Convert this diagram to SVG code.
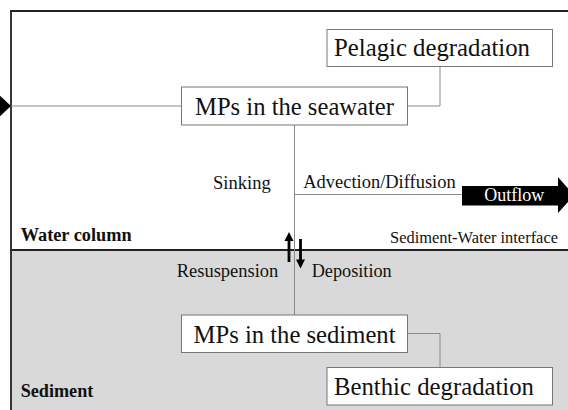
<svg xmlns="http://www.w3.org/2000/svg" width="568" height="410" viewBox="0 0 568 410" font-family="'Liberation Serif', 'DejaVu Serif', serif">
<style>
.box{fill:#fff;stroke:#777;stroke-width:1}
.bt{font-size:24.5px;fill:#111}
.lbl{font-size:18.5px;fill:#111}
.zone{font-size:18px;font-weight:bold;fill:#111}
.con{fill:none;stroke:#8a8a8a;stroke-width:1}
.border{fill:none;stroke:#222;stroke-width:1.8}
</style>
<rect x="0" y="0" width="568" height="410" fill="#fff"/>
<g id="sediment-zone">
<rect x="11" y="250" width="560" height="165" fill="#d9d9d9"/>
</g>
<g id="frame">
<path class="border" d="M11,415 V11 H575"/>
<line class="border" x1="11" y1="250" x2="575" y2="250"/>
</g>
<g id="connectors">
<line class="con" x1="11" y1="106" x2="181.5" y2="106"/>
<polyline class="con" points="407.5,106 440,106 440,66.5"/>
<line class="con" x1="294.5" y1="125" x2="294.5" y2="315"/>
<line class="con" x1="294.5" y1="194.5" x2="462" y2="194.5"/>
<polyline class="con" points="407.5,333.5 440,333.5 440,367.5"/>
<polygon points="-2,94 11,106 -2,118" fill="#000"/>
<g id="resuspension-arrow">
<line x1="289" y1="240" x2="289" y2="262" stroke="#000" stroke-width="2.8"/>
<polygon points="289,232 284.5,241 293.5,241" fill="#000"/>
</g>
<g id="deposition-arrow">
<line x1="300.5" y1="239" x2="300.5" y2="261" stroke="#000" stroke-width="2.8"/>
<polygon points="300.5,268.5 296,259.5 305,259.5" fill="#000"/>
</g>
</g>
<g id="outflow">
<polygon points="462,186 558,186 558,177 574,195.5 558,213 558,205.5 462,205.5" fill="#000"/>
<text x="484.3" y="200.7" font-size="18px" fill="#fff" textLength="60" lengthAdjust="spacingAndGlyphs">Outflow</text>
</g>
<g id="pelagic">
<rect class="box" x="327" y="29.5" width="225.5" height="37"/>
<text class="bt" x="334" y="56" textLength="196" lengthAdjust="spacingAndGlyphs">Pelagic degradation</text>
</g>
<g id="seawater">
<rect class="box" x="181.5" y="87" width="226" height="38"/>
<text class="bt" x="195" y="115" textLength="199" lengthAdjust="spacingAndGlyphs">MPs in the seawater</text>
</g>
<g id="sediment">
<rect class="box" x="181.5" y="315" width="226" height="37.5"/>
<text class="bt" x="193.5" y="342.5" textLength="202" lengthAdjust="spacingAndGlyphs">MPs in the sediment</text>
</g>
<g id="benthic">
<rect class="box" x="327" y="367.5" width="225.5" height="37.5"/>
<text class="bt" x="334" y="394.5" textLength="200" lengthAdjust="spacingAndGlyphs">Benthic degradation</text>
</g>
<g id="labels">
<text class="lbl" x="213" y="189" textLength="57.7" lengthAdjust="spacingAndGlyphs">Sinking</text>
<text class="lbl" x="303.3" y="188.3" textLength="152.4" lengthAdjust="spacingAndGlyphs">Advection/Diffusion</text>
<text class="lbl" x="176.7" y="277" textLength="101.6" lengthAdjust="spacingAndGlyphs">Resuspension</text>
<text class="lbl" x="311.7" y="277" textLength="80" lengthAdjust="spacingAndGlyphs">Deposition</text>
<text x="390" y="242.7" font-size="16.3px" fill="#111" textLength="168" lengthAdjust="spacingAndGlyphs">Sediment-Water interface</text>
<text class="zone" x="20.7" y="240.7" textLength="111" lengthAdjust="spacingAndGlyphs">Water column</text>
<text class="zone" x="20.7" y="397.3" textLength="72.6" lengthAdjust="spacingAndGlyphs">Sediment</text>
</g>
</svg>
